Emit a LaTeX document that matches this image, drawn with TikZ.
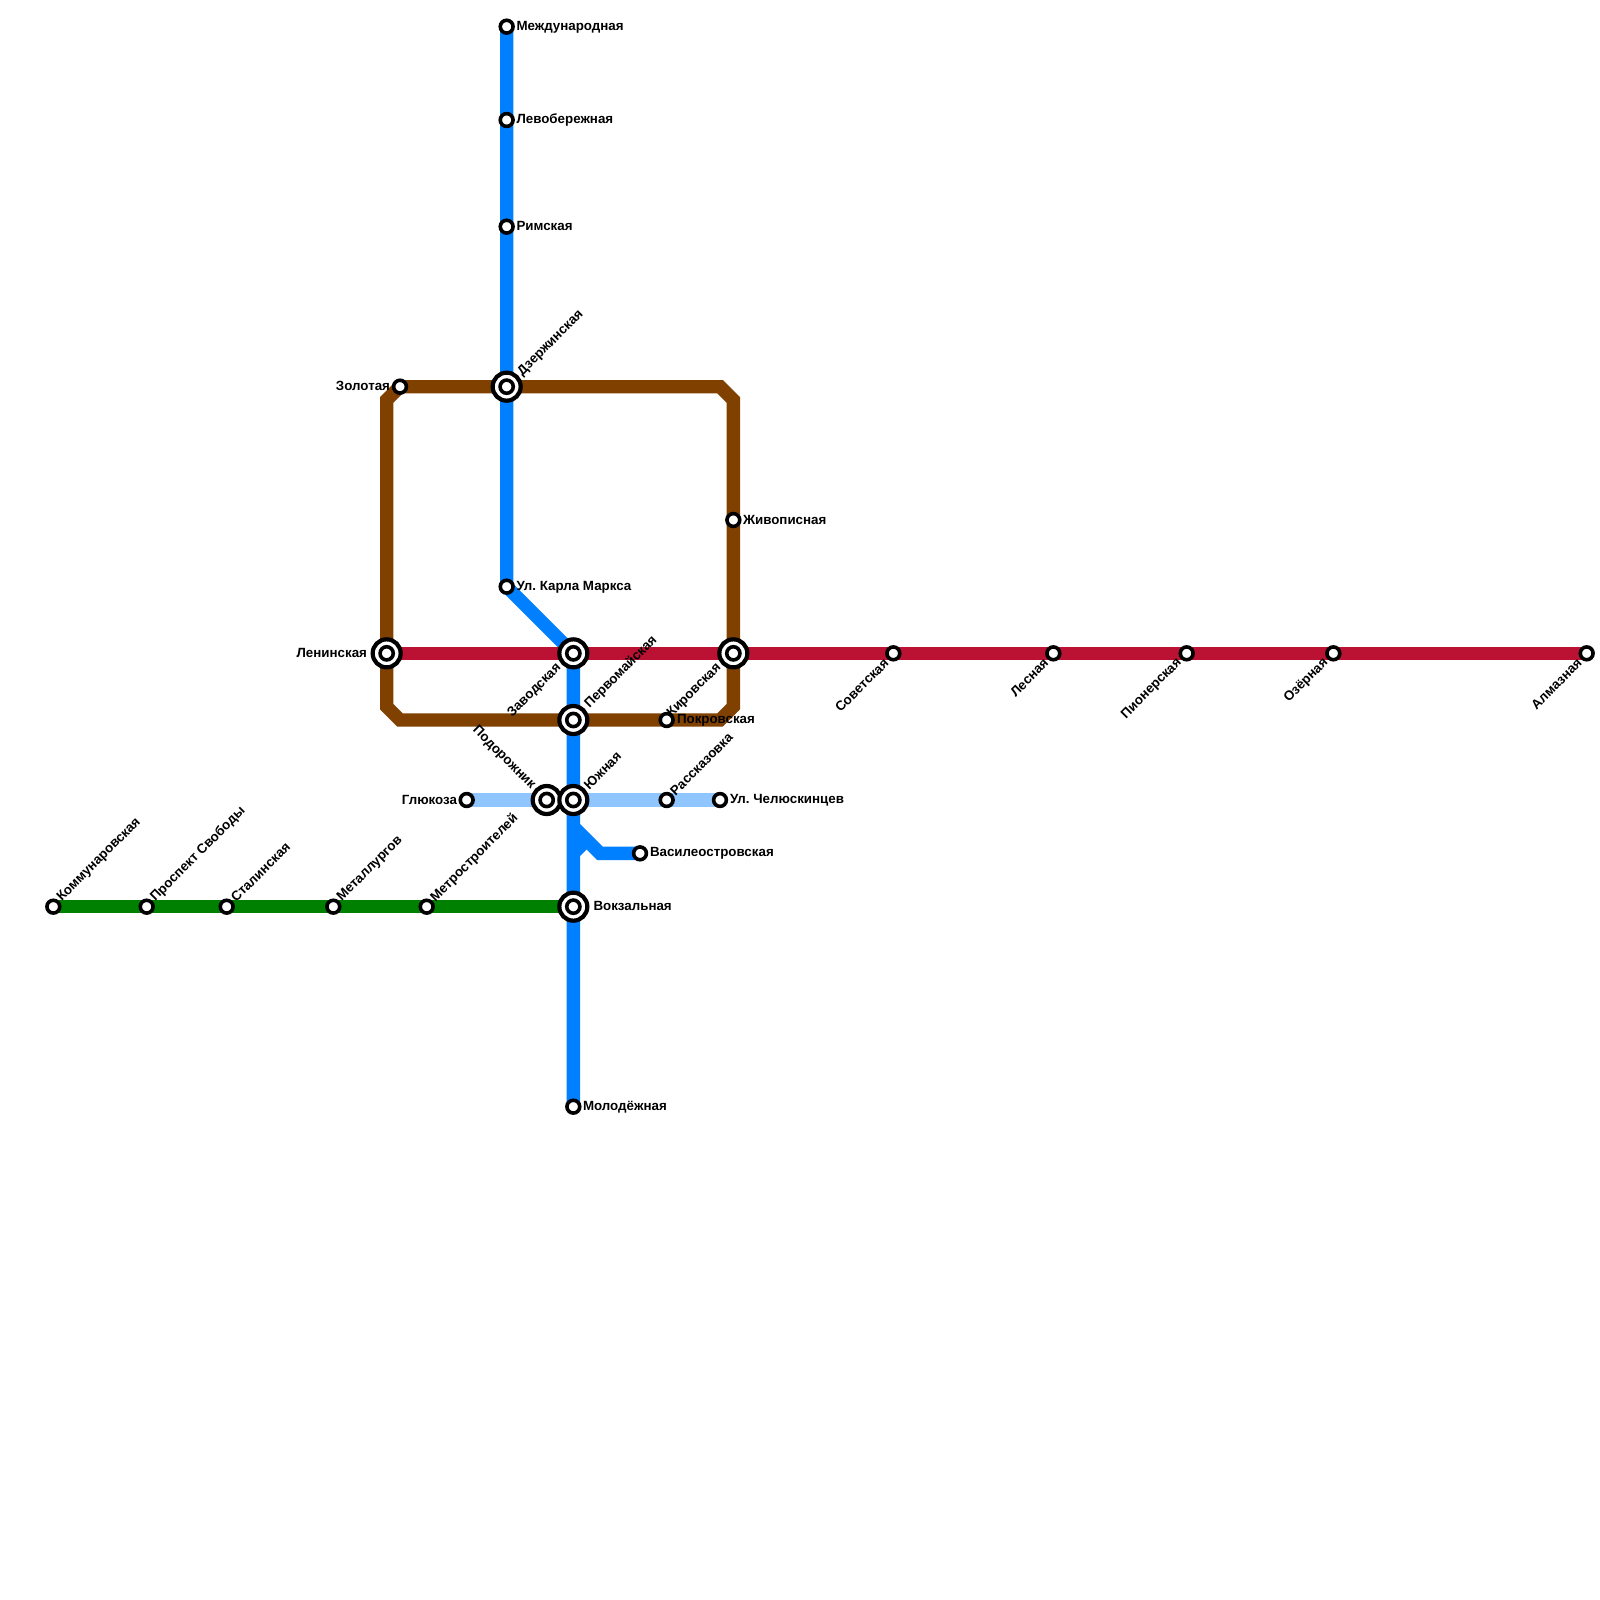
\documentclass[tikz,border=0pt]{standalone}
\usepackage{fontspec}
\setmainfont{Liberation Sans}
\frenchspacing
\usetikzlibrary{backgrounds}
\definecolor{lnblue}{HTML}{0080FF}
\definecolor{lnlight}{HTML}{8FC6FF}
\definecolor{lnbrown}{HTML}{804000}
\definecolor{lnred}{HTML}{BB1133}
\definecolor{lngreen}{HTML}{008000}
\tikzset{
  metro/.style={line width=6.67pt,line join=miter,line cap=butt},
  stsmall/.style={circle,draw=black,fill=white,line width=1.8pt,minimum size=6.4pt,inner sep=0pt,outer sep=0pt},
  bigout/.style={circle,draw=black,fill=white,line width=2.1pt,minimum size=14pt,inner sep=0pt,outer sep=0pt},
  bigin/.style={circle,draw=black,fill=white,line width=1.8pt,minimum size=6.6pt,inner sep=0pt,outer sep=0pt},
  bendpt/.style={inner sep=0pt,outer sep=0pt,minimum size=0pt},
  lbl/.style={font=\fontsize{6.67}{8}\selectfont\bfseries,inner sep=0pt,outer sep=0pt,text=black},
  lblne/.style={lbl,anchor=west,rotate=45},
  lblsw/.style={lbl,anchor=east,rotate=45},
  lblnw/.style={lbl,anchor=east,rotate=-45},
  lblea/.style={lbl,anchor=west},
  lblwe/.style={lbl,anchor=east}
}
\begin{document}
\begin{tikzpicture}[x=0.5pt,y=-0.5pt]
\useasboundingbox (0,0) rectangle (1600,1600);
% small stations
\node[stsmall] (mezh) at (506.67,26.67) {};
\node[stsmall] (levo) at (506.67,120) {};
\node[stsmall] (rim) at (506.67,226.67) {};
\node[stsmall] (kmarx) at (506.67,586.67) {};
\node[stsmall] (zol) at (400,386.67) {};
\node[stsmall] (zhiv) at (733.33,520) {};
\node[stsmall] (pokr) at (666.67,720) {};
\node[stsmall] (glu) at (466.67,800) {};
\node[stsmall] (rass) at (666.67,800) {};
\node[stsmall] (chel) at (720,800) {};
\node[stsmall] (vasi) at (640,853.33) {};
\node[stsmall] (molo) at (573.33,1106.67) {};
\node[stsmall] (komm) at (53.33,906.67) {};
\node[stsmall] (pros) at (146.67,906.67) {};
\node[stsmall] (stal) at (226.67,906.67) {};
\node[stsmall] (meta) at (333.33,906.67) {};
\node[stsmall] (mest) at (426.67,906.67) {};
\node[stsmall] (sove) at (893.33,653.33) {};
\node[stsmall] (lesn) at (1053.33,653.33) {};
\node[stsmall] (pion) at (1186.67,653.33) {};
\node[stsmall] (ozer) at (1333.33,653.33) {};
\node[stsmall] (alma) at (1586.67,653.33) {};
% interchange stations
\node[bigout] (dzer) at (506.67,386.67) {}; \node[bigin] (dzerI) at (dzer) {};
\node[bigout] (leni) at (386.67,653.33) {}; \node[bigin] (leniI) at (leni) {};
\node[bigout] (zavo) at (573.33,653.33) {}; \node[bigin] (zavoI) at (zavo) {};
\node[bigout] (kiro) at (733.33,653.33) {}; \node[bigin] (kiroI) at (kiro) {};
\node[bigout] (perv) at (573.33,720) {}; \node[bigin] (pervI) at (perv) {};
\node[bigout] (podo) at (546.67,800) {}; \node[bigin] (podoI) at (podo) {};
\node[bigout] (yuzh) at (573.33,800) {}; \node[bigin] (yuzhI) at (yuzh) {};
\node[bigout] (vokz) at (573.33,906.67) {}; \node[bigin] (vokzI) at (vokz) {};
% bend points
\node[bendpt] (b1) at (720,386.67) {};
\node[bendpt] (b2) at (733.33,400) {};
\node[bendpt] (b3) at (733.33,706.67) {};
\node[bendpt] (b4) at (720,720) {};
\node[bendpt] (b5) at (400,720) {};
\node[bendpt] (b6) at (386.67,706.67) {};
\node[bendpt] (b7) at (386.67,400) {};
\node[bendpt] (s1) at (573.33,826.67) {};
\node[bendpt] (s2) at (600,853.33) {};
\node[bendpt] (s3) at (586.67,840) {};
\node[bendpt] (s4) at (573.33,853.33) {};
\begin{pgfonlayer}{background}
\draw[metro,lngreen] (komm.center) -- (pros.center) -- (stal.center) -- (meta.center) -- (mest.center) -- (vokz.center);
\draw[metro,lnlight] (glu.center) -- (podo.center) -- (yuzh.center) -- (rass.center) -- (chel.center);
\draw[metro,lnblue] (mezh.center) -- (levo.center) -- (rim.center) -- (dzer.center) -- (kmarx.center) -- (zavo.center) -- (perv.center) -- (yuzh.center) -- (vokz.center) -- (molo.center);
\draw[metro,lnblue] (s1.center) -- (s2.center) -- (vasi.center);
\draw[metro,lnblue] (s4.center) -- (s3.center);
\draw[metro,lnbrown] (zol.center) -- (dzer.center) -- (b1.center) -- (b2.center) -- (zhiv.center) -- (kiro.center) -- (b3.center) -- (b4.center) -- (pokr.center) -- (perv.center) -- (b5.center) -- (b6.center) -- (leni.center) -- (b7.center) -- cycle;
\draw[metro,lnred] (leni.center) -- (zavo.center) -- (kiro.center) -- (sove.center) -- (lesn.center) -- (pion.center) -- (ozer.center) -- (alma.center);
\end{pgfonlayer}
% labels
\node[lblea] (t1) at (516.5,27.5) {Международная};
\node[lblea] (t2) at (516.5,120) {Левобережная};
\node[lblea] (t3) at (516.5,225.5) {Римская};
\node[lblne] (t4) at (520,374) {Дзержинская};
\node[lblwe] (t5) at (390,385.5) {Золотая};
\node[lblea] (t6) at (743,520) {Живописная};
\node[lblea] (t7) at (516.5,587.5) {Ул. Карла Маркса};
\node[lblwe] (t8) at (367,653) {Ленинская};
\node[lblsw] (t9) at (559,666) {Заводская};
\node[lblne] (t10) at (587,706) {Первомайская};
\node[lblsw] (t11) at (719,666) {Кировская};
\node[lblea] (t12) at (677,720) {Покровская};
\node[lblnw] (t13) at (533,787) {Подорожник};
\node[lblne] (t14) at (586,787) {Южная};
\node[lblwe] (t15) at (457,800) {Глюкоза};
\node[lblne] (t16) at (672.5,793) {Рассказовка};
\node[lblea] (t17) at (730,800) {Ул. Челюскинцев};
\node[lblea] (t18) at (650,853) {Василеостровская};
\node[lblea] (t19) at (593.5,905.5) {Вокзальная};
\node[lblea] (t20) at (583,1107.5) {Молодёжная};
\node[lblne] (t21) at (59.5,899.5) {Коммунаровская};
\node[lblne] (t22) at (153,899.5) {Проспект Свободы};
\node[lblne] (t23) at (233,899.5) {Сталинская};
\node[lblne] (t24) at (339.5,899.5) {Металлургов};
\node[lblne] (t25) at (433,899.5) {Метростроителей};
\node[lblsw] (t26) at (886,661) {Советская};
\node[lblsw] (t27) at (1046,661) {Лесная};
\node[lblsw] (t28) at (1179.5,661) {Пионерская};
\node[lblsw] (t29) at (1326,661) {Озёрная};
\node[lblsw] (t30) at (1579.5,661) {Алмазная};
\end{tikzpicture}
\end{document}
